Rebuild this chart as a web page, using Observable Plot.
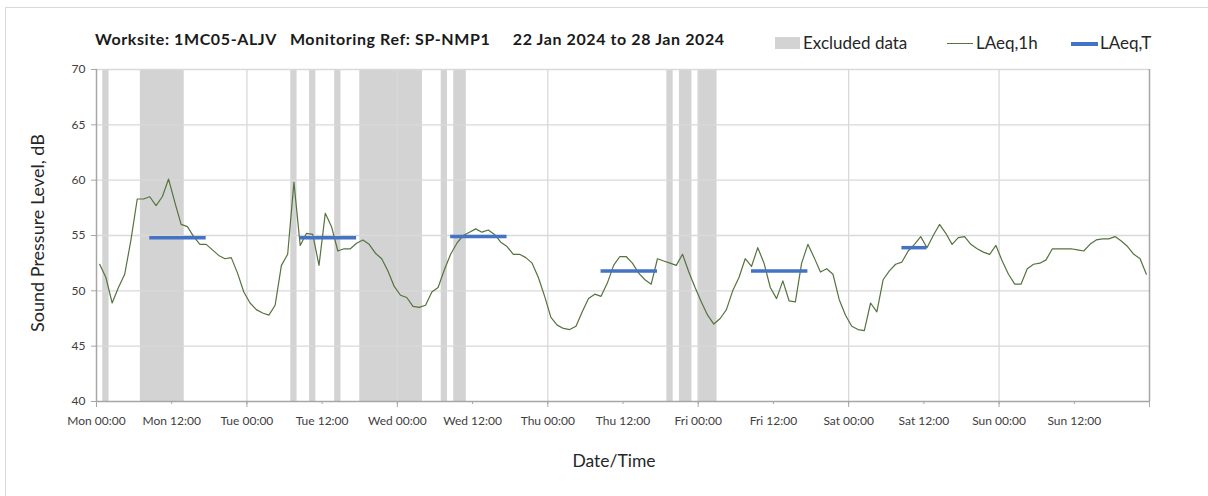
<!DOCTYPE html>
<html>
<head>
<meta charset="utf-8">
<script src="https://cdn.jsdelivr.net/npm/d3@7"></script>
<script src="https://cdn.jsdelivr.net/npm/@observablehq/plot@0.6"></script>
<style>
  html, body { margin: 0; padding: 0; background: #fff; overflow: hidden; }
  #wrap { position: relative; width: 1208px; height: 496px; font-family: Lato, "Open Sans", sans-serif; color: #262626; }
  #border { position: absolute; left: 5px; top: 7px; right: 0; bottom: 0; border-left: 1px solid #d9d9d9; border-top: 1px solid #d9d9d9; }
  #title { position: absolute; left: 95px; top: 29px; font-weight: bold; font-size: 16px; letter-spacing: 0.6px; white-space: pre; color: #1a1a1a; }
  .leg { position: absolute; top: 32px; font-size: 17px; white-space: pre; color: #262626; }
  .sw { position: absolute; }
  #ylab { position: absolute; left: 37px; top: 233px; transform: translate(-50%, -50%) rotate(-90deg); font-size: 18px; white-space: pre; color: #262626; }
  #xlab { position: absolute; left: 614px; top: 460px; transform: translate(-50%, -50%); font-size: 17.5px; color: #262626; }
  #chart { position: absolute; left: 0; top: 0; }
</style>
</head>
<body>
<div id="wrap">
  <div id="border"></div>
  <div id="chart"></div>
  <div id="title">Worksite: 1MC05-ALJV   Monitoring Ref: SP-NMP1     22 Jan 2024 to 28 Jan 2024</div>
  <div class="sw" style="left:775px;top:37px;width:25px;height:12px;background:#d3d3d3"></div>
  <div class="leg" style="left:803px">Excluded data</div>
  <div class="sw" style="left:947px;top:43px;width:26px;height:1.3px;background:#55733f"></div>
  <div class="leg" style="left:976px">LAeq,1h</div>
  <div class="sw" style="left:1071px;top:42px;width:27px;height:3.5px;background:#4472c4"></div>
  <div class="leg" style="left:1100px">LAeq,T</div>
  <div id="ylab">Sound Pressure Level, dB</div>
  <div id="xlab">Date/Time</div>
</div>
<script>
// ---- Data ----
const startTime = "2024-01-22T00:00:00Z"; // Mon 22 Jan 2024 00:00
// Hourly LAeq,1h values (dB), Mon 00:00 .. Sun 23:00
const laeq1h = [
  52.4, 51.2, 48.9, 50.3, 51.5, 54.6, 58.3, 58.3, 58.5, 57.7, 58.5, 60.1,
  58.0, 56.0, 55.8, 54.9, 54.2, 54.2, 53.7, 53.2, 52.9, 53.0, 51.6, 49.9,
  48.9, 48.3, 48.0, 47.8, 48.7, 52.3, 53.3, 59.8, 54.1, 55.2, 55.1, 52.3,
  57.0, 55.8, 53.6, 53.8, 53.8, 54.3, 54.6, 54.2, 53.4, 52.9, 51.8, 50.4,
  49.6, 49.4, 48.6, 48.5, 48.7, 49.9, 50.3, 51.9, 53.3, 54.3, 55.0, 55.3,
  55.6, 55.3, 55.5, 55.1, 54.4, 54.0, 53.3, 53.3, 53.0, 52.5, 51.2, 49.5,
  47.6, 46.9, 46.6, 46.5, 46.8, 48.1, 49.3, 49.7, 49.5, 50.7, 52.3, 53.1,
  53.1, 52.5, 51.6, 51.0, 50.6, 52.9, 52.7, 52.5, 52.3, 53.3, 51.7, 50.3,
  49.0, 47.8, 47.0, 47.5, 48.3, 50.0, 51.2, 52.9, 52.2, 53.9, 52.5, 50.3,
  49.3, 50.9, 49.1, 49.0, 52.5, 54.2, 53.0, 51.7, 52.0, 51.5, 49.2, 47.8,
  46.8, 46.5, 46.4, 48.9, 48.1, 51.0, 51.8, 52.4, 52.6, 53.6, 54.2, 54.9,
  53.9, 55.0, 56.0, 55.2, 54.2, 54.8, 54.9, 54.2, 53.8, 53.5, 53.3, 54.1,
  52.7, 51.5, 50.6, 50.6, 52.0, 52.4, 52.5, 52.8, 53.8, 53.8, 53.8, 53.8,
  53.7, 53.6, 54.2, 54.6, 54.7, 54.7, 54.9, 54.5, 54.0, 53.3, 52.9, 51.5
];
// Excluded data periods
const excludedStart = [
  "2024-01-22T01:00Z", "2024-01-22T07:00Z", "2024-01-23T07:00Z", "2024-01-23T10:00Z",
  "2024-01-23T14:00Z", "2024-01-23T18:00Z", "2024-01-24T07:00Z", "2024-01-24T09:00Z",
  "2024-01-25T19:00Z", "2024-01-25T21:00Z", "2024-01-26T00:00Z"
];
const excludedEnd = [
  "2024-01-22T02:00Z", "2024-01-22T14:00Z", "2024-01-23T08:00Z", "2024-01-23T11:00Z",
  "2024-01-23T15:00Z", "2024-01-24T04:00Z", "2024-01-24T08:00Z", "2024-01-24T11:00Z",
  "2024-01-25T20:00Z", "2024-01-25T23:00Z", "2024-01-26T03:00Z"
];
// LAeq,T assessment periods
const periodStart = ["2024-01-22T08:00Z", "2024-01-23T08:00Z", "2024-01-24T08:00Z", "2024-01-25T08:00Z", "2024-01-26T08:00Z", "2024-01-27T08:00Z"];
const periodEnd   = ["2024-01-22T18:00Z", "2024-01-23T18:00Z", "2024-01-24T18:00Z", "2024-01-25T18:00Z", "2024-01-26T18:00Z", "2024-01-27T13:00Z"];
const periodValue = [54.8, 54.8, 54.9, 51.8, 51.8, 53.9];
// Axes
const yTicks = [40, 45, 50, 55, 60, 65, 70];
const xDomain = ["2024-01-22T00:00Z", "2024-01-29T00:00Z"];
const xTickFormat = "%a %H:%M";

// ---- Build ----
const HOUR = 3600e3;
const t0 = new Date(startTime).getTime();
const hourly = laeq1h.map((v, i) => ({ t: new Date(t0 + (i + 0.5) * HOUR), v }));
const excluded = excludedStart.map((s, i) => ({ start: new Date(s), end: new Date(excludedEnd[i]) }));
const periods = periodStart.map((s, i) => ({
  start: new Date(new Date(s).getTime() + 0.5 * HOUR),
  end: new Date(new Date(periodEnd[i]).getTime() - 0.5 * HOUR),
  v: periodValue[i]
}));
const d0 = new Date(xDomain[0]), d1 = new Date(xDomain[1]);
const halfDays = d3.utcHour.every(12).range(d0, d1);
const days = d3.utcDay.range(d0, new Date(d1.getTime() + 1));
const innerDays = days.filter(d => d > d0 && d < d1);

const chart = Plot.plot({
  width: 1208,
  height: 496,
  marginLeft: 96,
  marginRight: 59,
  marginTop: 69,
  marginBottom: 95,
  style: { fontFamily: "Lato, 'Open Sans', sans-serif", background: "transparent" },
  x: { type: "utc", domain: [d0, d1] },
  y: { domain: [40, 70] },
  marks: [
    Plot.rect(excluded, { x1: "start", x2: "end", fill: "#d3d3d3" }),
    Plot.gridY(yTicks.filter(d => d > 40), { stroke: "#d9d9d9", strokeOpacity: 1, strokeWidth: 1.3 }),
    Plot.gridX(innerDays, { stroke: "#d9d9d9", strokeOpacity: 1, strokeWidth: 1.3 }),
    Plot.ruleX([d1], { stroke: "#a6a6a6", strokeWidth: 1.5 }),
    Plot.ruleX([d0], { stroke: "#a6a6a6", strokeWidth: 1.5 }),
    Plot.ruleY([40], { stroke: "#a6a6a6", strokeWidth: 1.5 }),
    Plot.axisY(yTicks, { tickSize: 5, tickPadding: 6, fontSize: 12, stroke: "#a6a6a6", color: "#404040", label: null }),
    Plot.axisX(halfDays, { tickSize: 3, tickPadding: 12, fontSize: 12, stroke: "#a6a6a6", color: "#404040", tickFormat: d3.utcFormat(xTickFormat), label: null }),
    Plot.axisX(days, { tickSize: 6, stroke: "#a6a6a6", tickFormat: () => "", label: null }),
    Plot.line(hourly, { x: "t", y: "v", stroke: "#55733f", strokeWidth: 1.2 }),
    Plot.ruleY(periods, { y: "v", x1: "start", x2: "end", stroke: "#4472c4", strokeWidth: 3.5 })
  ]
});
document.getElementById("chart").appendChild(chart);
</script>
</body>
</html>
